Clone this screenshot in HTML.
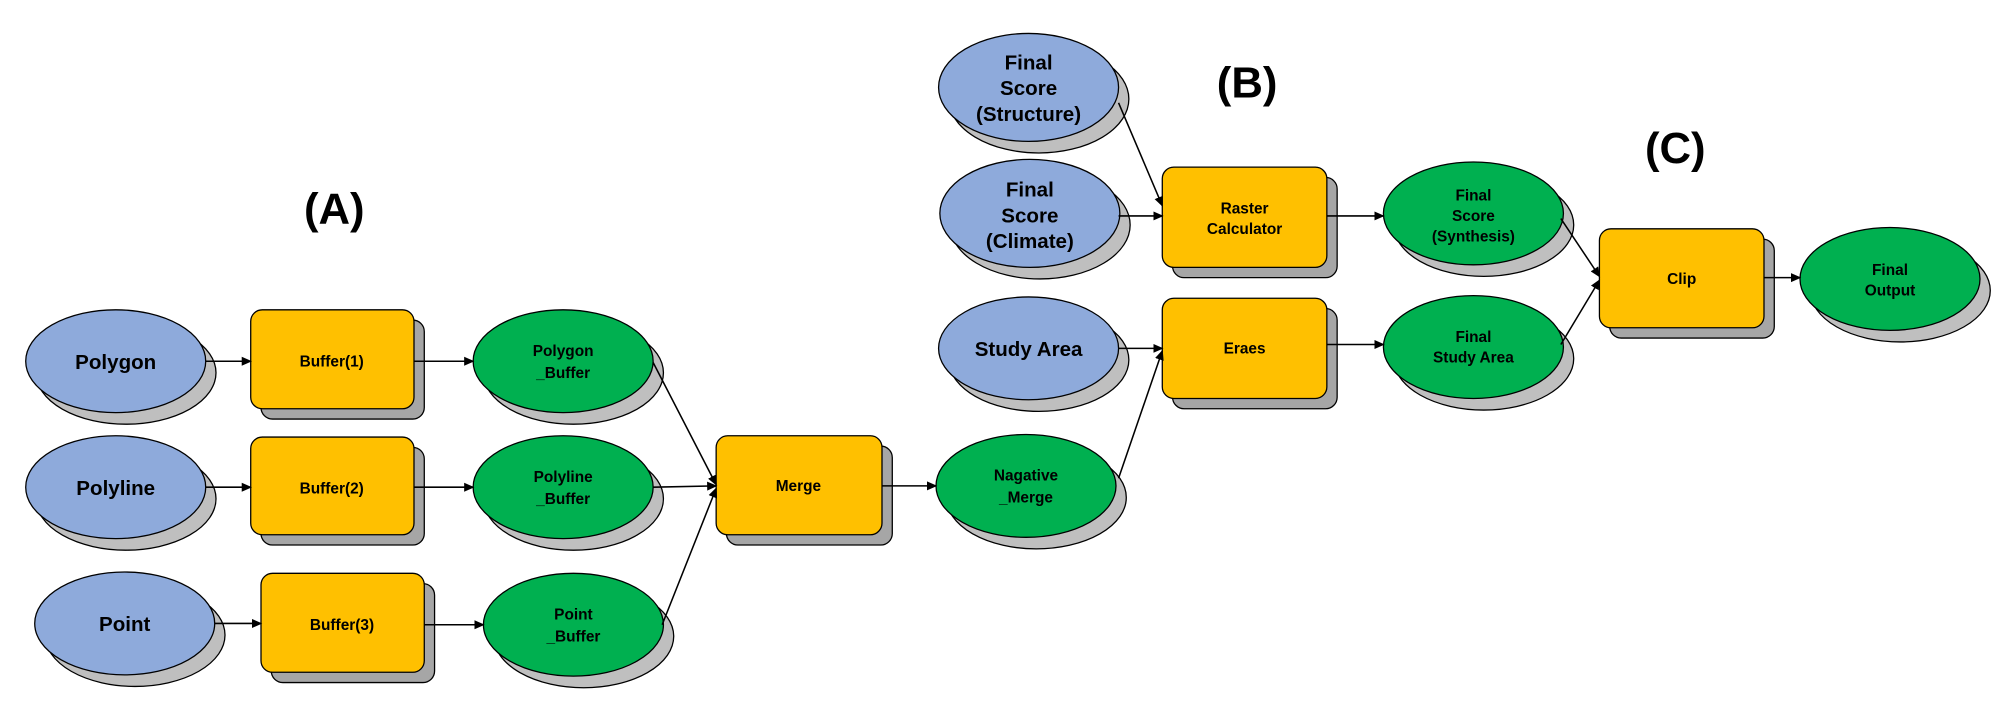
<!DOCTYPE html>
<html><head><meta charset="utf-8"><style>
html,body{margin:0;padding:0;background:#fff;}
svg{display:block;}
text{font-family:"Liberation Sans",sans-serif;font-weight:bold;fill:#000;text-anchor:middle;}
</style></head><body>
<svg width="2016" height="716" viewBox="0 0 1568 557" preserveAspectRatio="none" xmlns="http://www.w3.org/2000/svg">
<defs><marker id="a" markerWidth="8" markerHeight="8" refX="7" refY="4" orient="auto" markerUnits="userSpaceOnUse"><path d="M0,0.5 L8,4 L0,7.5 z" fill="#000"/></marker></defs>
<g stroke="#000" stroke-width="1">
<!-- ellipses: shadow then main -->
<g id="e">
<ellipse cx="98" cy="290" rx="70" ry="40" fill="#bfbfbf"/><ellipse cx="90" cy="281" rx="70" ry="40" fill="#8eaadb"/>
<ellipse cx="98" cy="388" rx="70" ry="40" fill="#bfbfbf"/><ellipse cx="90" cy="379" rx="70" ry="40" fill="#8eaadb"/>
<ellipse cx="105" cy="494" rx="70" ry="40" fill="#bfbfbf"/><ellipse cx="97" cy="485" rx="70" ry="40" fill="#8eaadb"/>
<ellipse cx="446" cy="290" rx="70" ry="40" fill="#bfbfbf"/><ellipse cx="438" cy="281" rx="70" ry="40" fill="#00b050"/>
<ellipse cx="446" cy="388" rx="70" ry="40" fill="#bfbfbf"/><ellipse cx="438" cy="379" rx="70" ry="40" fill="#00b050"/>
<ellipse cx="454" cy="495" rx="70" ry="40" fill="#bfbfbf"/><ellipse cx="446" cy="486" rx="70" ry="40" fill="#00b050"/>
<ellipse cx="806" cy="387" rx="70" ry="40" fill="#bfbfbf"/><ellipse cx="798" cy="378" rx="70" ry="40" fill="#00b050"/>
<ellipse cx="808" cy="77" rx="70" ry="42" fill="#bfbfbf"/><ellipse cx="800" cy="68" rx="70" ry="42" fill="#8eaadb"/>
<ellipse cx="809" cy="175" rx="70" ry="42" fill="#bfbfbf"/><ellipse cx="801" cy="166" rx="70" ry="42" fill="#8eaadb"/>
<ellipse cx="808" cy="280" rx="70" ry="40" fill="#bfbfbf"/><ellipse cx="800" cy="271" rx="70" ry="40" fill="#8eaadb"/>
<ellipse cx="1154" cy="175" rx="70" ry="40" fill="#bfbfbf"/><ellipse cx="1146" cy="166" rx="70" ry="40" fill="#00b050"/>
<ellipse cx="1154" cy="279" rx="70" ry="40" fill="#bfbfbf"/><ellipse cx="1146" cy="270" rx="70" ry="40" fill="#00b050"/>
<ellipse cx="1478" cy="226" rx="70" ry="40" fill="#bfbfbf"/><ellipse cx="1470" cy="217" rx="70" ry="40" fill="#00b050"/>
</g>
<!-- rects -->
<rect x="203" y="249" width="127" height="77" rx="9" fill="#a6a6a6"/><rect x="195" y="241" width="127" height="77" rx="9" fill="#ffc000"/>
<rect x="203" y="348" width="127" height="76" rx="9" fill="#a6a6a6"/><rect x="195" y="340" width="127" height="76" rx="9" fill="#ffc000"/>
<rect x="211" y="454" width="127" height="77" rx="9" fill="#a6a6a6"/><rect x="203" y="446" width="127" height="77" rx="9" fill="#ffc000"/>
<rect x="565" y="347" width="129" height="77" rx="9" fill="#a6a6a6"/><rect x="557" y="339" width="129" height="77" rx="9" fill="#ffc000"/>
<rect x="912" y="138" width="128" height="78" rx="9" fill="#a6a6a6"/><rect x="904" y="130" width="128" height="78" rx="9" fill="#ffc000"/>
<rect x="912" y="240" width="128" height="78" rx="9" fill="#a6a6a6"/><rect x="904" y="232" width="128" height="78" rx="9" fill="#ffc000"/>
<rect x="1252" y="186" width="128" height="77" rx="9" fill="#a6a6a6"/><rect x="1244" y="178" width="128" height="77" rx="9" fill="#ffc000"/>
</g>
<g stroke="#000" stroke-width="1.2" marker-end="url(#a)">
<line x1="160" y1="281" x2="195" y2="281"/>
<line x1="322" y1="281" x2="368" y2="281"/>
<line x1="160" y1="379" x2="195" y2="379"/>
<line x1="322" y1="379" x2="368" y2="379"/>
<line x1="167" y1="485" x2="203" y2="485"/>
<line x1="330" y1="486" x2="376" y2="486"/>
<line x1="508" y1="282" x2="557" y2="377"/>
<line x1="508" y1="379" x2="557" y2="378"/>
<line x1="515" y1="486" x2="557" y2="380"/>
<line x1="686" y1="378" x2="728" y2="378"/>
<line x1="870" y1="80" x2="904" y2="160"/>
<line x1="870" y1="168" x2="904" y2="168"/>
<line x1="870" y1="271" x2="904" y2="271"/>
<line x1="870" y1="372" x2="904" y2="273"/>
<line x1="1032" y1="168" x2="1076" y2="168"/>
<line x1="1032" y1="268" x2="1076" y2="268"/>
<line x1="1214" y1="170" x2="1244" y2="215"/>
<line x1="1214" y1="268" x2="1244" y2="218"/>
<line x1="1372" y1="216" x2="1400" y2="216"/>
</g>
<g font-size="16">
<text x="90" y="287">Polygon</text>
<text x="90" y="385">Polyline</text>
<text x="97" y="491">Point</text>
<text x="800" y="54">Final</text><text x="800" y="74">Score</text><text x="800" y="94">(Structure)</text>
<text x="801" y="153">Final</text><text x="801" y="173">Score</text><text x="801" y="193">(Climate)</text>
<text x="800" y="277">Study Area</text>
</g>
<g font-size="12">
<text x="258" y="285">Buffer(1)</text>
<text x="258" y="384">Buffer(2)</text>
<text x="266" y="490">Buffer(3)</text>
<text x="621" y="382">Merge</text>
<text x="968" y="166">Raster</text><text x="968" y="182">Calculator</text>
<text x="968" y="275">Eraes</text>
<text x="1308" y="221">Clip</text>
<text x="438" y="277">Polygon</text><text x="438" y="294">_Buffer</text>
<text x="438" y="375">Polyline</text><text x="438" y="392">_Buffer</text>
<text x="446" y="482">Point</text><text x="446" y="499">_Buffer</text>
<text x="798" y="374">Nagative</text><text x="798" y="391">_Merge</text>
<text x="1146" y="156">Final</text><text x="1146" y="172">Score</text><text x="1146" y="188">(Synthesis)</text>
<text x="1146" y="266">Final</text><text x="1146" y="282">Study Area</text>
<text x="1470" y="214">Final</text><text x="1470" y="230">Output</text>
</g>
<g font-size="34">
<text x="260" y="174">(A)</text>
<text x="970" y="76">(B)</text>
<text x="1303" y="127">(C)</text>
</g>
</svg>
</body></html>
